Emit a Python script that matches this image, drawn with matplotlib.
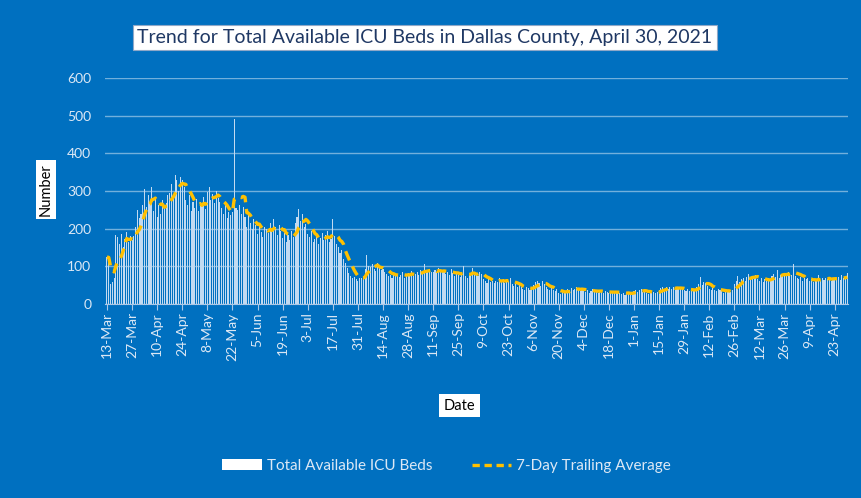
import numpy as np
import pandas as pd
import matplotlib
matplotlib.use("Agg")
import matplotlib.pyplot as plt
from matplotlib.lines import Line2D
from matplotlib.patches import Patch

start_date = "2020-03-13"

# daily total available ICU beds, one week per row
icu_beds = [
    125, 122, 52, 58, 68, 182, 178,
    160, 185, 150, 172, 190, 165, 180,
    170, 180, 205, 250, 228, 240, 262,
    305, 258, 290, 272, 310, 248, 285,
    232, 262, 240, 275, 255, 268, 290,
    295, 318, 285, 342, 330, 300, 338,
    328, 310, 275, 262, 290, 248, 270,
    255, 280, 248, 272, 260, 285, 252,
    298, 310, 275, 292, 268, 300, 282,
    270, 255, 240, 262, 228, 245, 235,
    245, 492, 255, 250, 262, 238, 258,
    230, 205, 242, 215, 198, 225, 210,
    185, 210, 192, 178, 205, 198, 188,
    215, 190, 225, 205, 182, 210, 195,
    175, 188, 165, 182, 170, 195, 178,
    215, 230, 252, 220, 238, 205, 212,
    185, 178, 195, 165, 172, 180, 160,
    175, 188, 170, 182, 195, 165, 172,
    225, 180, 158, 150, 135, 142, 120,
    110, 95, 82, 75, 70, 72, 65,
    62, 70, 68, 75, 92, 130, 100,
    98, 105, 92, 88, 110, 95, 90,
    92, 85, 80, 74, 78, 70, 82,
    75, 80, 72, 78, 85, 70, 76,
    82, 78, 88, 75, 80, 85, 78,
    90, 85, 105, 82, 88, 92, 86,
    85, 90, 82, 95, 88, 84, 90,
    80, 86, 78, 92, 82, 75, 85,
    78, 72, 80, 100, 74, 70, 76,
    80, 95, 78, 82, 75, 85, 80,
    65, 60, 55, 68, 58, 62, 56,
    62, 58, 70, 60, 65, 55, 64,
    60, 68, 52, 48, 55, 45, 50,
    45, 40, 38, 46, 42, 36, 44,
    50, 58, 62, 55, 48, 60, 52,
    45, 40, 36, 42, 38, 34, 40,
    30, 26, 32, 28, 35, 40, 38,
    42, 36, 40, 44, 38, 35, 41,
    38, 32, 36, 30, 35, 40, 33,
    34, 30, 36, 32, 28, 35, 33,
    30, 28, 34, 32, 29, 33, 30,
    27, 30, 25, 28, 32, 26, 29,
    34, 38, 32, 36, 40, 33, 35,
    30, 26, 32, 28, 31, 29, 33,
    38, 42, 45, 40, 44, 39, 46,
    40, 44, 38, 46, 42, 40, 43,
    38, 35, 40, 34, 38, 36, 39,
    45, 52, 72, 50, 58, 55, 48,
    40, 36, 42, 38, 35, 40, 37,
    34, 30, 36, 32, 35, 31, 38,
    52, 60, 75, 58, 65, 70, 62,
    72, 80, 68, 75, 70, 78, 66,
    62, 68, 58, 65, 60, 70, 64,
    75, 80, 72, 90, 70, 76, 78,
    82, 76, 85, 80, 78, 105, 75,
    70, 65, 72, 62, 68, 66, 70,
    60, 65, 58, 64, 62, 78, 60,
    68, 64, 70, 65, 72, 62, 66,
    70, 66, 72, 64, 78, 68, 70,
    82,
]

dates = pd.date_range(start_date, periods=len(icu_beds), freq="D")
beds = pd.Series(icu_beds, index=dates, dtype=float)
trailing = beds.rolling(7, min_periods=1).mean()

BG = "#0070C0"
TXT = "#DCE8F5"
YELLOW = "#FFC000"

fig = plt.figure(figsize=(8.62, 4.98), dpi=100, facecolor=BG)
ax = fig.add_axes([0.122, 0.3896, 0.862, 0.4538])
ax.set_facecolor(BG)

x = np.arange(len(dates))
ax.bar(x, beds.values, width=0.6, color="#C2DAF1", edgecolor="none", zorder=2)
ax.plot(x, trailing.values, color=YELLOW, lw=2.4, dashes=(3.0, 2.0), zorder=3)

ax.set_ylim(0, 600)
ax.set_xlim(-1, len(dates) - 0.5)
ax.set_yticks(range(0, 601, 100))
ax.grid(axis="y", color="white", alpha=0.45, lw=1, zorder=1)
ax.set_axisbelow(True)

tick_pos = x[::14]
ax.set_xticks(tick_pos)
ax.set_xticklabels([f"{d.day}-{d.strftime('%b')}" for d in dates[::14]], rotation=90)
ax.tick_params(axis="x", colors="#A9C7E6", length=4, labelcolor=TXT, labelsize=10, pad=2)
ax.tick_params(axis="y", length=0, labelcolor=TXT, labelsize=10, pad=10)
for lab in ax.get_xticklabels() + ax.get_yticklabels():
    lab.set_fontfamily("Lato")

for s in ["top", "right", "left"]:
    ax.spines[s].set_visible(False)
ax.spines["bottom"].set_color("#A9C7E6")

box = dict(boxstyle="square,pad=0.22", facecolor="white", edgecolor="#8FA8C8", lw=0.8)
fig.text(0.493, 0.925, "Trend for Total Available ICU Beds in Dallas County, April 30, 2021",
         ha="center", va="center", fontsize=14, color="#1F3864", family="Lato", bbox=box)
fig.text(0.053, 0.62, "Number", rotation=90, ha="center", va="center",
         fontsize=10.5, color="black", family="Lato", bbox=dict(boxstyle="square,pad=0.2", facecolor="white", edgecolor="none"))
fig.text(0.533, 0.185, "Date", ha="center", va="center",
         fontsize=10.5, color="black", family="Lato", bbox=dict(boxstyle="square,pad=0.3", facecolor="white", edgecolor="none"))

handles = [Patch(facecolor="white", edgecolor="none", label="Total Available ICU Beds"),
           Line2D([0], [0], color=YELLOW, lw=2.4, dashes=(2.2, 1.4), label="7-Day Trailing Average")]
leg = fig.legend(handles=handles, loc="center", bbox_to_anchor=(0.518, 0.064), ncol=2,
                 frameon=False, handlelength=2.6, handleheight=0.7,
                 columnspacing=2.6, handletextpad=0.3, prop={"family": "Lato", "size": 11})
for t in leg.get_texts():
    t.set_color(TXT)

fig.savefig("out.png", dpi=100, facecolor=BG)
